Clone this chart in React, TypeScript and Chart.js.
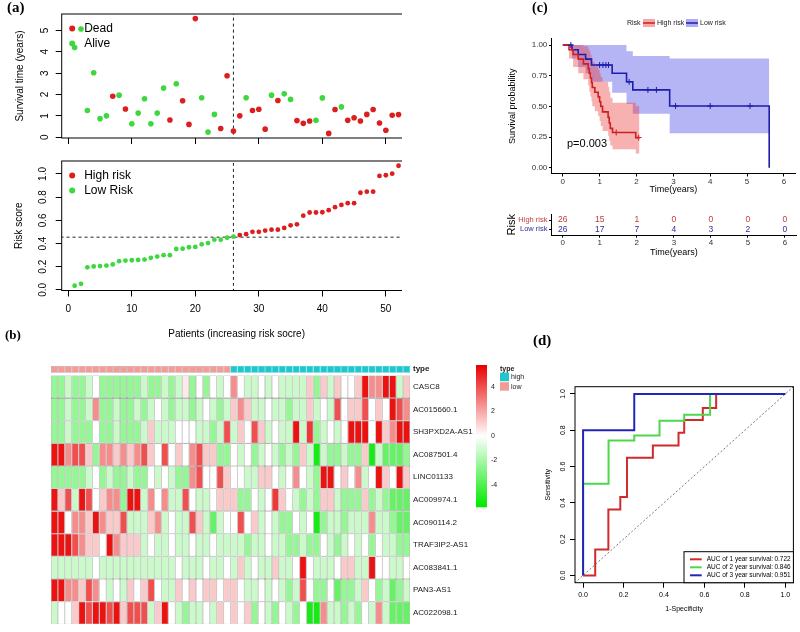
import React, { useEffect, useRef } from "react";
import { Chart, registerables } from "chart.js";
Chart.register(...registerables);

const FONT = "'Liberation Sans', Arial, Helvetica, sans-serif";
Chart.defaults.font.family = FONT;
Chart.defaults.color = "#000";

// ---------------- data: panel (a) ----------------
const patientIndex = [1,2,3,4,5,6,7,8,9,10,11,12,13,14,15,16,17,18,19,20,21,22,23,24,25,26,27,28,29,30,31,32,33,34,35,36,37,38,39,40,41,42,43,44,45,46,47,48,49,50,51,52];
const survivalYears = [4.2,5.06,1.25,3.02,0.87,1.0,1.92,1.97,1.32,0.63,1.13,1.8,0.63,1.13,2.3,0.81,2.5,1.71,0.6,5.55,1.85,0.24,1.07,0.41,2.88,0.29,1.0,1.85,1.25,1.31,0.38,1.97,1.72,2.03,1.77,0.78,0.65,0.76,0.79,1.84,0.18,1.3,1.42,0.79,0.91,0.76,1.07,1.3,0.67,0.33,1.03,1.06];
const deathStatus = [0,0,0,0,0,0,1,0,1,0,0,0,0,0,0,1,0,1,1,1,0,0,0,1,1,1,1,0,1,1,1,0,1,0,0,1,1,1,0,0,1,1,0,1,1,1,1,1,1,1,1,1];
const riskScores = [0.036,0.053,0.195,0.203,0.206,0.21,0.22,0.248,0.253,0.256,0.259,0.262,0.277,0.288,0.3,0.3,0.353,0.356,0.368,0.371,0.393,0.404,0.433,0.433,0.45,0.459,0.473,0.481,0.501,0.501,0.512,0.52,0.52,0.535,0.557,0.566,0.64,0.668,0.668,0.67,0.688,0.714,0.733,0.748,0.748,0.838,0.847,0.847,0.983,0.989,1.003,1.071];
const riskCutoff = 0.455;
const splitPatient = 26;
const survTicks = [0,1,2,3,4,5];
const riskTicks = [0,0.2,0.4,0.6,0.8,1.0];
const patientTicks = [0,10,20,30,40,50];

// ---------------- data: panel (b) heatmap ----------------
const geneNames = ["CASC8","AC015660.1","SH3PXD2A-AS1","AC087501.4","LINC01133","AC009974.1","AC090114.2","TRAF3IP2-AS1","AC083841.1","PAN3-AS1","AC022098.1"];
const exprCASC8 = [-2.4,-2.4,-1.2,-2.4,-2.4,-1.2,0,-2.4,-2.4,-2.4,-2.4,-2.4,-2.4,-1.2,-2.4,-2.4,-1.2,-2.4,-1.2,0.5,-2.4,0,-2.4,0,-1.2,0,2.6,0,-1.2,-1.2,0,-1.2,0,-1.2,-1.2,-1.2,-1.2,1.2,-2.4,1.2,-1.2,1.2,0,0,1.2,5.4,2.6,2.6,5.4,5.4,-1.2,1.2];
const exprAC015660 = [-2.4,-2.4,-1.2,-2.4,-2.4,-1.2,2.6,-2.4,-2.4,-1.2,-2.4,-2.4,-1.2,-2.4,-1.2,0,-1.2,-2.4,-1.2,-1.2,-2.4,-1.2,0,-1.2,-2.4,-1.2,1.2,2.6,1.2,-1.2,-1.2,0,-1.2,-1.2,-2.4,-1.2,-1.2,1.2,-1.2,0,-1.2,4,0,1.2,1.2,4,0,1.2,0,5.4,4,2.6];
const exprSH3PXD2A = [-2.4,-2.4,-1.2,-2.4,-2.4,-2.4,0,-2.4,-2.4,-1.2,-2.4,-2.4,-2.4,-1.2,1.2,-1.2,-1.2,-1.2,0,0,0,-1.2,-1.2,-2.4,-1.2,4,-1.2,1.2,0,4,1.2,-1.2,0,-1.2,-1.2,5.4,-1.2,4.5,-2.4,-1.2,0,-1.2,0,5.4,5.4,5.4,0,5.4,1.2,2.6,5.4,5.4];
const exprAC087501 = [5.4,5.4,2.6,4,4,1.2,-2.4,2.6,2.6,1.2,2.6,1.2,2.6,4,1.2,0,4,0,1.2,0,2.6,4,1.2,1.2,-2.4,-2.4,0,-1.2,0,-2.4,-1.2,0,-1.2,-2.4,-1.2,-2.4,1.2,-1.2,-5.3,-1.2,-2.4,-2.4,-1.2,-2.4,-2.4,1.2,-5.3,-1.2,-3.5,-3.5,-3.5,-2.4];
const exprLINC01133 = [-2.4,-2.4,-2.4,-2.4,-2.4,-1.2,0,-2.4,-1.2,-2.4,-2.4,-1.2,-2.4,-2.4,0,-1.2,0,-1.2,-2.4,-2.4,2.6,4,0,0,4,1.2,0,0,-1.2,-1.2,1.2,1.2,0,-1.2,0,2.6,0,-1.2,-2.4,5.4,5.4,0,1.2,0,2.6,-1.2,0,5.4,1.2,0,5.4,1.2];
const exprAC009974 = [5.4,1.2,4,-1.2,5.4,4,0,1.2,2.6,2.6,-2.4,5.4,5.4,-1.2,2.6,0,2.6,-1.2,-1.2,4,0,-1.2,-1.2,0,1.2,1.2,1.2,-2.4,-2.4,0,-1.2,0,4.5,1.2,0,-1.2,-2.4,-1.2,-2.4,1.2,1.2,-1.2,-2.4,-2.4,-2.4,1.2,-2.4,-1.2,-2.4,-3.5,-3.5,-3.5];
const exprAC090114 = [5.4,5.4,0,2.6,2.6,1.2,5.4,2.6,1.2,1.2,4,-1.2,-1.2,-1.2,1.2,2.6,-1.2,0,-1.2,-1.2,4,1.2,-1.2,-3.5,-1.2,0,0,4,0,1.2,-1.2,0,-1.2,-2.4,-2.4,0,-1.2,0,-5.3,-2.4,-1.2,-1.2,-2.4,-1.2,-1.2,-1.2,2.6,-1.2,-1.2,-2.4,-3.5,-3.5];
const exprTRAF3IP2 = [5.4,5.4,5.4,4,2.6,1.2,1.2,0,5.4,2.6,1.2,1.2,1.2,-1.2,0,-1.2,-1.2,0,-1.2,-1.2,0,-1.2,-1.2,0,-1.2,-1.2,-1.2,-1.2,-2.4,-1.2,-1.2,0,-1.2,-1.2,-2.4,-2.4,-1.2,-2.4,-2.4,0,-1.2,-2.4,-1.2,0,-1.2,0,-2.4,0,-1.2,-1.2,-2.4,-2.4];
const exprAC083841 = [-1.2,-1.2,-1.2,-1.2,-1.2,-1.2,0,-1.2,-1.2,-1.2,-1.2,-1.2,-1.2,-1.2,-1.2,-1.2,-1.2,-1.2,0,-1.2,-1.2,-1.2,0,-1.2,-1.2,0,-1.2,1.2,-1.2,0,-1.2,-1.2,1.2,-1.2,-1.2,0,5.4,0,-1.2,-1.2,-1.2,0,1.2,1.2,-1.2,-1.2,5.4,0,0,-1.2,-1.2,0];
const exprPAN3 = [5.4,5.4,2.6,2.6,1.2,4,2.6,0,-1.2,0,-1.2,1.2,0,1.2,4,0,-1.2,-1.2,1.2,0,1.2,0,1.2,1.2,0,1.2,1.2,0,-1.2,-1.2,0,-1.2,0,-1.2,-2.4,-1.2,4,0,-2.4,-2.4,0,-3.5,-2.4,-2.4,-1.2,1.2,0,-2.4,-1.2,-3.5,-2.4,-1.2];
const exprAC022098 = [-1.2,0,0,1.2,5.4,4,5.4,5.4,4,5.4,1.2,4,4,4,-1.2,1.2,5.4,0,-1.2,-2.4,-1.2,-1.2,0,-1.2,1.2,0,1.2,0,1.2,-2.4,0,-1.2,-2.4,0,-1.2,-2.4,0,-5.3,-5.3,2.6,-1.2,-1.2,-2.4,-1.2,-2.4,0,-1.2,2.6,-1.2,-3.5,-3.5,-3.5];
const exprRows = [exprCASC8, exprAC015660, exprSH3PXD2A, exprAC087501, exprLINC01133, exprAC009974, exprAC090114, exprTRAF3IP2, exprAC083841, exprPAN3, exprAC022098];
const colorBarTicks = [4, 2, 0, -2, -4];

// ---------------- data: panel (c) Kaplan-Meier ----------------
const highTimes = [0,0.17,0.28,0.42,0.56,0.69,0.72,0.75,0.78,0.8,0.87,0.96,1.0,1.03,1.08,1.23,1.26,1.29,1.35,1.98,2.08];
const highSurv = [1,0.962,0.923,0.885,0.846,0.808,0.769,0.731,0.692,0.654,0.615,0.577,0.538,0.5,0.455,0.41,0.364,0.32,0.287,0.245,0.245];
const highLower = [1,0.89,0.82,0.77,0.72,0.67,0.62,0.58,0.54,0.5,0.46,0.42,0.38,0.34,0.3,0.26,0.22,0.18,0.15,0.115,0.115];
const highUpper = [1,1,1,1,0.99,0.97,0.95,0.92,0.89,0.86,0.83,0.8,0.77,0.74,0.7,0.66,0.62,0.57,0.53,0.5,0.5];
const lowTimes = [0,0.25,0.42,0.62,0.78,1.34,1.73,1.9,2.9,5.6];
const lowSurv = [1,0.962,0.923,0.885,0.837,0.77,0.7,0.634,0.503,0];
const lowLower = [1,0.89,0.82,0.77,0.7,0.61,0.52,0.44,0.28,0.28];
const lowUpper = [1,1,1,1,1,1,0.95,0.91,0.89,0.89];
const highCensorTimes = [1.45,2.06];
const highCensorSurv = [0.287,0.245];
const lowCensorTimes = [0.22,1.0,1.09,1.17,1.24,1.8,2.31,2.54,3.06,4.0,5.08];
const lowCensorSurv = [1,0.837,0.837,0.837,0.837,0.7,0.634,0.634,0.503,0.503,0.503];
const pValueText = "p=0.003";
const tableTimes = [0,1,2,3,4,5,6];
const highAtRisk = [26,15,1,0,0,0,0];
const lowAtRisk = [26,17,7,4,3,2,0];
const kmYTicks = [0,0.25,0.5,0.75,1];

// ---------------- data: panel (d) ROC ----------------
const roc1Fpr = [0,0.06,0.06,0.125,0.125,0.184,0.184,0.217,0.217,0.345,0.345,0.472,0.472,0.5,0.5,0.592,0.592,0.658,0.658,1];
const roc1Tpr = [0,0,0.143,0.143,0.363,0.363,0.432,0.432,0.648,0.648,0.716,0.716,0.786,0.786,0.857,0.857,0.923,0.923,1,1];
const roc2Fpr = [0,0,0.126,0.126,0.253,0.253,0.378,0.378,0.5,0.5,0.628,0.628,1];
const roc2Tpr = [0,0.505,0.505,0.743,0.743,0.771,0.771,0.853,0.853,0.886,0.886,1,1];
const roc3Fpr = [0,0,0.253,0.253,1];
const roc3Tpr = [0,0.8,0.8,1,1];
const aucLabels = ["AUC of 1 year survival:", "AUC of 2 year survival:", "AUC of 3 year survival:"];
const aucValues = ["0.722", "0.846", "0.951"];
const rocTicks = [0,0.2,0.4,0.6,0.8,1.0];

// ---------------- colours ----------------
const RED_PT = "#DC1E1E";
const GREEN_PT = "#3ED83E";
const KM_RED = "#D01E1E";
const KM_BLUE = "#1E1EAA";
const TXT_RED = "#C43A3A";
const TXT_BLUE = "#2E2E9E";
const ROC_RED = "#CF2B2B";
const ROC_GREEN = "#4ED64E";
const ROC_BLUE = "#2424BA";
const TYPE_LOW = "#F29C97";
const TYPE_HIGH = "#1FC6CE";
const CELL_BORDER = "#8e8e8e";
const HEAT_MAX = 5.8;

function heatColor(v: number): string {
  const f = Math.min(1, Math.abs(v) / HEAT_MAX);
  const fade = Math.round(255 - 255 * f);
  const main = Math.round(255 - 22 * f);
  if (v >= 0) return "rgb(" + main + "," + fade + "," + fade + ")";
  return "rgb(" + fade + "," + main + "," + fade + ")";
}

function fixedTicks(vals: number[]) {
  return function (s: any) {
    s.ticks = vals.map(function (v) { return { value: v }; });
  };
}

const framePlugin = {
  id: "frame",
  afterDatasetsDraw(chart: any) {
    const ctx = chart.ctx;
    const a = chart.chartArea;
    ctx.save();
    ctx.strokeStyle = "#000";
    ctx.lineWidth = 1;
    ctx.strokeRect(a.left, a.top, a.right - a.left, a.bottom - a.top);
    ctx.restore();
  },
};

function dotLegend(labels: string[], colors: string[]) {
  return {
    id: "dotLegend",
    afterDraw(chart: any) {
      const ctx = chart.ctx;
      const a = chart.chartArea;
      ctx.save();
      for (let i = 0; i < labels.length; i++) {
        const cy = a.top + 14.5 + i * 15;
        const cx = a.left + 10.5;
        ctx.fillStyle = colors[i];
        ctx.beginPath();
        ctx.arc(cx, cy, 3, 0, Math.PI * 2);
        ctx.fill();
        ctx.fillStyle = "#000";
        ctx.font = "12px " + FONT;
        ctx.textBaseline = "middle";
        ctx.textAlign = "left";
        ctx.fillText(labels[i], cx + 12, cy + 0.5);
      }
      ctx.restore();
    },
  };
}

function rTickGrid(len: number) {
  return { display: true, drawOnChartArea: false, drawTicks: true, tickLength: len, color: "#000", lineWidth: 1 };
}

// ---------- (a) top ----------
function makeSurvival() {
  const dead: any[] = [];
  const alive: any[] = [];
  patientIndex.forEach(function (p, i) {
    const pt = { x: p, y: survivalYears[i] };
    if (deathStatus[i] === 1) dead.push(pt); else alive.push(pt);
  });
  return {
    type: "scatter",
    data: {
      datasets: [
        { label: "Dead", data: dead, backgroundColor: RED_PT, borderWidth: 0, pointRadius: 2.8 },
        { label: "Alive", data: alive, backgroundColor: GREEN_PT, borderWidth: 0, pointRadius: 2.8 },
        { type: "line", label: "split", data: [{ x: splitPatient, y: -1 }, { x: splitPatient, y: 10 }], borderColor: "#222", borderWidth: 1, borderDash: [3, 3], pointRadius: 0 },
      ],
    },
    options: {
      animation: false, responsive: false, events: [],
      layout: { padding: { left: 0, top: 13.3, right: 8.5, bottom: 0 } },
      plugins: { legend: { display: false }, tooltip: { enabled: false } },
      scales: {
        x: { type: "linear", min: -1.04, max: 54.04, afterBuildTicks: fixedTicks(patientTicks), afterFit: function (s: any) { s.height = 7.2; }, ticks: { display: false }, grid: rTickGrid(6), border: { display: false } },
        y: {
          type: "linear", min: -0.035, max: 5.765, afterBuildTicks: fixedTicks(survTicks), afterFit: function (s: any) { s.width = 61.7; },
          ticks: { minRotation: 90, maxRotation: 90, crossAlign: "center", padding: 8, autoSkip: false, font: { size: 10 }, color: "#000" },
          grid: rTickGrid(6), border: { display: false },
          title: { display: true, text: "Survival time (years)", font: { size: 10 }, color: "#000", padding: { top: 14, bottom: 0 } },
        },
      },
    },
    plugins: [framePlugin, dotLegend(["Dead", "Alive"], [RED_PT, GREEN_PT])],
  };
}

// ---------- (a) bottom ----------
function makeRisk() {
  const high: any[] = [];
  const low: any[] = [];
  patientIndex.forEach(function (p, i) {
    const pt = { x: p, y: riskScores[i] };
    if (p > splitPatient) high.push(pt); else low.push(pt);
  });
  return {
    type: "scatter",
    data: {
      datasets: [
        { label: "High risk", data: high, backgroundColor: RED_PT, borderWidth: 0, pointRadius: 2.4 },
        { label: "Low Risk", data: low, backgroundColor: GREEN_PT, borderWidth: 0, pointRadius: 2.4 },
        { type: "line", label: "split", data: [{ x: splitPatient, y: -1 }, { x: splitPatient, y: 2 }], borderColor: "#222", borderWidth: 1, borderDash: [3, 3], pointRadius: 0 },
        { type: "line", label: "cut", data: [{ x: -5, y: riskCutoff }, { x: 60, y: riskCutoff }], borderColor: "#222", borderWidth: 1, borderDash: [3, 3], pointRadius: 0 },
      ],
    },
    options: {
      animation: false, responsive: false, events: [],
      layout: { padding: { left: 0, top: 9.3, right: 8.5, bottom: 0 } },
      plugins: { legend: { display: false }, tooltip: { enabled: false } },
      scales: {
        x: {
          type: "linear", min: -1.04, max: 54.04, afterBuildTicks: fixedTicks(patientTicks), afterFit: function (s: any) { s.height = 54.5; },
          ticks: { font: { size: 10 }, color: "#000", padding: 7, autoSkip: false, maxRotation: 0 },
          grid: rTickGrid(6), border: { display: false },
          title: { display: true, text: "Patients (increasing risk socre)", font: { size: 10 }, color: "#000", padding: { top: 0, bottom: 5 } },
        },
        y: {
          type: "linear", min: -0.005, max: 1.112, afterBuildTicks: fixedTicks(riskTicks), afterFit: function (s: any) { s.width = 61.7; },
          ticks: { minRotation: 90, maxRotation: 90, crossAlign: "center", padding: 5, autoSkip: false, font: { size: 10 }, color: "#000", callback: function (v: any) { return Number(v).toFixed(1); } },
          grid: rTickGrid(6), border: { display: false },
          title: { display: true, text: "Risk score", font: { size: 10 }, color: "#000", padding: { top: 13, bottom: 0 } },
        },
      },
    },
    plugins: [framePlugin, dotLegend(["High risk", "Low Risk"], [RED_PT, GREEN_PT])],
  };
}

// ---------- (b) heatmap ----------
function makeHeatmap() {
  const GAP = 0.117;
  const TYPE_H = 0.317;
  const namesBottomUp = geneNames.slice().reverse();
  const rowsBottomUp = exprRows.slice().reverse();
  const datasets: any[] = [];
  for (let r = 0; r < rowsBottomUp.length; r++) {
    const row = rowsBottomUp[r];
    datasets.push({
      label: namesBottomUp[r],
      data: row.map(function () { return 1; }),
      backgroundColor: row.map(heatColor),
      borderColor: CELL_BORDER, borderWidth: 0.55, borderSkipped: false, inflateAmount: 0, barPercentage: 1, categoryPercentage: 1,
    });
  }
  datasets.push({ label: "gap", data: patientIndex.map(function () { return GAP; }), backgroundColor: "rgba(0,0,0,0)", borderWidth: 0, barPercentage: 1, categoryPercentage: 1, inflateAmount: 0 });
  datasets.push({
    label: "type",
    data: patientIndex.map(function () { return TYPE_H; }),
    backgroundColor: patientIndex.map(function (p) { return p <= splitPatient ? TYPE_LOW : TYPE_HIGH; }),
    borderColor: patientIndex.map(function (p) { return p <= splitPatient ? CELL_BORDER : TYPE_HIGH; }),
    borderWidth: 0.55, borderSkipped: false, inflateAmount: 0, barPercentage: 1, categoryPercentage: 1,
  });
  const tickVals: number[] = namesBottomUp.map(function (_n, i) { return i + 0.5; });
  tickVals.push(namesBottomUp.length + GAP + TYPE_H / 2);
  const tickLabels: string[] = namesBottomUp.concat(["type"]);
  const legendPlugin = {
    id: "heatLegend",
    afterDraw(chart: any) {
      const ctx = chart.ctx;
      const a = chart.chartArea;
      ctx.save();
      const x0 = a.right + 66, w = 11, y0 = a.top - 0.7, h = 142;
      for (let k = 0; k < h; k++) {
        const v = HEAT_MAX * (1 - (2 * (k + 0.5)) / h);
        ctx.fillStyle = heatColor(v);
        ctx.fillRect(x0, y0 + k, w, 1.3);
      }
      ctx.fillStyle = "#222";
      ctx.font = "7px " + FONT;
      ctx.textAlign = "left";
      ctx.textBaseline = "middle";
      colorBarTicks.forEach(function (v) {
        ctx.fillText(String(v), x0 + w + 4, y0 + h / 2 - v * (h / 2) / HEAT_MAX);
      });
      const lx = x0 + 24;
      ctx.font = "bold 7px " + FONT;
      ctx.fillText("type", lx, a.top + 3);
      ctx.fillStyle = TYPE_HIGH;
      ctx.fillRect(lx, a.top + 7, 9, 8.5);
      ctx.fillStyle = TYPE_LOW;
      ctx.fillRect(lx, a.top + 16.5, 9, 8.5);
      ctx.fillStyle = "#222";
      ctx.font = "7px " + FONT;
      ctx.fillText("high", lx + 11, a.top + 11.5);
      ctx.fillText("low", lx + 11, a.top + 21);
      ctx.restore();
    },
  };
  return {
    type: "bar",
    data: { labels: patientIndex.map(String), datasets: datasets },
    options: {
      animation: false, responsive: false, events: [],
      layout: { padding: { left: 11, top: 10.7, right: 0, bottom: 3 } },
      plugins: { legend: { display: false }, tooltip: { enabled: false } },
      scales: {
        x: { type: "category", stacked: true, display: false },
        y: {
          type: "linear", stacked: true, position: "right", min: 0, max: namesBottomUp.length + GAP + TYPE_H,
          afterBuildTicks: fixedTicks(tickVals), afterFit: function (s: any) { s.width = 130; },
          ticks: {
            autoSkip: false, padding: 3, color: "#1a1a1a",
            font: function (c: any) { return { size: 8, weight: c.index === tickLabels.length - 1 ? "bold" : "normal" }; },
            callback: function (_v: any, i: number) { return tickLabels[i]; },
          },
          grid: { display: false, drawTicks: false }, border: { display: false },
        },
      },
    },
    plugins: [legendPlugin],
  };
}

// ---------- (c) KM ----------
function pairs(xs: number[], ys: number[]) {
  return xs.map(function (x, i) { return { x: x, y: ys[i] }; });
}

function makeKM() {
  const kmLegend = {
    id: "kmLegend",
    afterDraw(chart: any) {
      const ctx = chart.ctx;
      ctx.save();
      ctx.font = "7px " + FONT;
      ctx.textBaseline = "middle";
      ctx.textAlign = "left";
      ctx.fillStyle = "#222";
      ctx.fillText("Risk", 147, 23);
      const key = function (x: number, fill: string, line: string, label: string) {
        ctx.fillStyle = fill;
        ctx.fillRect(x, 19, 12, 8);
        ctx.strokeStyle = line;
        ctx.lineWidth = 1.5;
        ctx.beginPath();
        ctx.moveTo(x, 23);
        ctx.lineTo(x + 12, 23);
        ctx.stroke();
        ctx.fillStyle = "#222";
        ctx.fillText(label, x + 14, 23);
      };
      key(163, "rgba(235,60,60,0.45)", KM_RED, "High risk");
      key(206, "rgba(70,70,230,0.45)", KM_BLUE, "Low risk");
      ctx.font = "11px " + FONT;
      ctx.fillStyle = "#000";
      ctx.fillText(pValueText, 87, 144);
      ctx.restore();
    },
  };
  return {
    type: "line",
    data: {
      datasets: [
        { label: "High censor", data: pairs(highCensorTimes, highCensorSurv), showLine: false, pointStyle: "cross", pointRadius: 3, borderColor: KM_RED, borderWidth: 1 },
        { label: "Low censor", data: pairs(lowCensorTimes, lowCensorSurv), showLine: false, pointStyle: "cross", pointRadius: 3, borderColor: KM_BLUE, borderWidth: 1 },
        { label: "High risk", data: pairs(highTimes, highSurv), stepped: true, borderColor: KM_RED, borderWidth: 1.6, pointRadius: 0 },
        { label: "Low risk", data: pairs(lowTimes, lowSurv), stepped: true, borderColor: KM_BLUE, borderWidth: 1.6, pointRadius: 0 },
        { label: "high upper", data: pairs(highTimes, highUpper), stepped: true, borderWidth: 0, pointRadius: 0, fill: 5, backgroundColor: "rgba(235,50,50,0.38)" },
        { label: "high lower", data: pairs(highTimes, highLower), stepped: true, borderWidth: 0, pointRadius: 0, fill: false },
        { label: "low upper", data: pairs(lowTimes, lowUpper), stepped: true, borderWidth: 0, pointRadius: 0, fill: 7, backgroundColor: "rgba(60,60,230,0.38)" },
        { label: "low lower", data: pairs(lowTimes, lowLower), stepped: true, borderWidth: 0, pointRadius: 0, fill: false },
      ],
    },
    options: {
      animation: false, responsive: false, events: [],
      layout: { padding: { left: 20, top: 38.9, right: 4, bottom: 0 } },
      plugins: { legend: { display: false }, tooltip: { enabled: false } },
      scales: {
        x: {
          type: "linear", min: -0.3, max: 6.3, afterBuildTicks: fixedTicks(tableTimes), afterFit: function (s: any) { s.height = 26.2; },
          ticks: { font: { size: 8 }, color: "#333", padding: 0.5, maxRotation: 0 },
          grid: rTickGrid(2.7), border: { display: true, color: "#000", width: 1 },
          title: { display: true, text: "Time(years)", font: { size: 9 }, color: "#000", padding: { top: 0, bottom: 4.6 } },
        },
        y: {
          type: "linear", min: -0.05, max: 1.05, afterBuildTicks: fixedTicks(kmYTicks), afterFit: function (s: any) { s.width = 51.7; },
          ticks: { font: { size: 8 }, color: "#333", padding: 1.7, callback: function (v: any) { return Number(v).toFixed(2); } },
          grid: rTickGrid(2.7), border: { display: true, color: "#000", width: 1 },
          title: { display: true, text: "Survival probability", font: { size: 9 }, color: "#000", padding: { top: 7.6, bottom: 0 } },
        },
      },
    },
    plugins: [kmLegend],
  };
}

// ---------- (c) risk table ----------
function makeTable() {
  const numbers = {
    id: "atRisk",
    afterDatasetsDraw(chart: any) {
      const ctx = chart.ctx;
      ctx.save();
      ctx.font = "8.5px " + FONT;
      ctx.textAlign = "center";
      ctx.textBaseline = "middle";
      chart.data.datasets.forEach(function (ds: any, di: number) {
        const meta = chart.getDatasetMeta(di);
        ctx.fillStyle = ds.textColor;
        meta.data.forEach(function (el: any, i: number) { ctx.fillText(String(ds.counts[i]), el.x, el.y); });
      });
      ctx.restore();
    },
  };
  return {
    type: "scatter",
    data: {
      datasets: [
        { label: "High risk", data: tableTimes.map(function (t) { return { x: t, y: 2 }; }), counts: highAtRisk, textColor: TXT_RED, pointRadius: 0 },
        { label: "Low risk", data: tableTimes.map(function (t) { return { x: t, y: 1 }; }), counts: lowAtRisk, textColor: TXT_BLUE, pointRadius: 0 },
      ],
    },
    options: {
      animation: false, responsive: false, events: [],
      layout: { padding: { left: 20, top: 9.5, right: 4, bottom: 0 } },
      plugins: { legend: { display: false }, tooltip: { enabled: false } },
      scales: {
        x: {
          type: "linear", min: -0.3, max: 6.3, afterBuildTicks: fixedTicks(tableTimes), afterFit: function (s: any) { s.height = 30; },
          ticks: { font: { size: 8 }, color: "#333", padding: 0, maxRotation: 0 },
          grid: rTickGrid(2.7), border: { display: true, color: "#000", width: 1 },
          title: { display: true, text: "Time(years)", font: { size: 9 }, color: "#000", padding: { top: 0, bottom: 7.3 } },
        },
        y: {
          type: "linear", min: 0.4, max: 2.6, afterBuildTicks: fixedTicks([1, 2]), afterFit: function (s: any) { s.width = 51.7; },
          ticks: {
            font: { size: 7.5 }, padding: 1.5,
            color: function (c: any) { return c.tick && c.tick.value === 2 ? TXT_RED : TXT_BLUE; },
            callback: function (v: any) { return Number(v) === 2 ? "High risk" : "Low risk"; },
          },
          grid: rTickGrid(2.7), border: { display: true, color: "#000", width: 1 },
          title: { display: true, text: "Risk", font: { size: 11 }, color: "#000", padding: { top: 5, bottom: 0 } },
        },
      },
    },
    plugins: [numbers],
  };
}

// ---------- (d) ROC ----------
function makeROC() {
  const rocLegend = {
    id: "rocLegend",
    afterDraw(chart: any) {
      const ctx = chart.ctx;
      const a = chart.chartArea;
      ctx.save();
      const bx = a.right - 109.4, by = a.bottom - 31;
      ctx.fillStyle = "#fff";
      ctx.fillRect(bx, by, a.right - bx, a.bottom - by);
      ctx.strokeStyle = "#000";
      ctx.lineWidth = 1;
      ctx.strokeRect(bx, by, a.right - bx, a.bottom - by);
      const cols = [ROC_RED, ROC_GREEN, ROC_BLUE];
      ctx.font = "6.5px " + FONT;
      ctx.textBaseline = "middle";
      for (let i = 0; i < aucLabels.length; i++) {
        const y = a.bottom - 23.4 + i * 8;
        ctx.strokeStyle = cols[i];
        ctx.lineWidth = 2;
        ctx.beginPath();
        ctx.moveTo(a.right - 103.4, y);
        ctx.lineTo(a.right - 91.7, y);
        ctx.stroke();
        ctx.fillStyle = "#000";
        ctx.textAlign = "left";
        ctx.fillText(aucLabels[i], a.right - 86.7, y);
        ctx.textAlign = "right";
        ctx.fillText(aucValues[i], a.right - 2.7, y);
      }
      ctx.restore();
    },
  };
  return {
    type: "line",
    data: {
      datasets: [
        { label: "3 year", data: pairs(roc3Fpr, roc3Tpr), borderColor: ROC_BLUE, pointRadius: 0, borderWidth: 2, fill: false, tension: 0 },
        { label: "2 year", data: pairs(roc2Fpr, roc2Tpr), borderColor: ROC_GREEN, pointRadius: 0, borderWidth: 2, fill: false, tension: 0 },
        { label: "1 year", data: pairs(roc1Fpr, roc1Tpr), borderColor: ROC_RED, pointRadius: 0, borderWidth: 2, fill: false, tension: 0 },
        { label: "ref", data: [{ x: -0.1, y: -0.1 }, { x: 1.1, y: 1.1 }], borderColor: "#777", borderWidth: 1, borderDash: [2, 2], pointRadius: 0, fill: false },
      ],
    },
    options: {
      animation: false, responsive: false, events: [],
      layout: { padding: { left: 0, top: 56.7, right: 6.6, bottom: 0 } },
      plugins: { legend: { display: false }, tooltip: { enabled: false } },
      scales: {
        x: {
          type: "linear", min: -0.04, max: 1.04, afterBuildTicks: fixedTicks(rocTicks), afterFit: function (s: any) { s.height = 49.3; },
          ticks: { font: { size: 7 }, color: "#000", padding: 3, maxRotation: 0, callback: function (v: any) { return Number(v).toFixed(1); } },
          grid: rTickGrid(5), border: { display: false },
          title: { display: true, text: "1-Specificity", font: { size: 7 }, color: "#000", padding: { top: 0, bottom: 18.5 } },
        },
        y: {
          type: "linear", min: -0.04, max: 1.04, afterBuildTicks: fixedTicks(rocTicks), afterFit: function (s: any) { s.width = 35; },
          ticks: { minRotation: 90, maxRotation: 90, crossAlign: "center", autoSkip: false, font: { size: 7 }, color: "#000", padding: 2, callback: function (v: any) { return Number(v).toFixed(1); } },
          grid: rTickGrid(5), border: { display: false },
          title: { display: true, text: "Sensitivity", font: { size: 7 }, color: "#000", padding: { top: 3.8, bottom: 0 } },
        },
      },
    },
    plugins: [framePlugin, rocLegend],
  };
}

type CanvasProps = { x: number; y: number; w: number; h: number; clipW?: number; make: () => any };

function ChartCanvas(props: CanvasProps) {
  const ref = useRef<HTMLCanvasElement>(null);
  useEffect(function () {
    const chart = new Chart(ref.current as HTMLCanvasElement, props.make());
    return function () { chart.destroy(); };
  }, []);
  const cw = props.clipW === undefined ? props.w : props.clipW;
  return (
    <div style={{ position: "absolute", left: props.x, top: props.y, width: cw, height: props.h, overflow: "hidden" }}>
      <canvas ref={ref} width={props.w} height={props.h} style={{ display: "block", width: props.w, height: props.h }} />
    </div>
  );
}

function letterStyle(left: number, top: number, size: number): React.CSSProperties {
  return {
    position: "absolute", left: left, top: top, fontFamily: "'Liberation Serif', 'Times New Roman', serif",
    fontWeight: "bold", fontSize: size, lineHeight: size + "px", color: "#000",
  };
}

export default function App() {
  return (
    <div style={{ position: "absolute", left: 0, top: 0, width: 800, height: 632, background: "#fff", overflow: "hidden" }}>
      <ChartCanvas x={0} y={0} w={420} h={152} clipW={402} make={makeSurvival} />
      <ChartCanvas x={0} y={150} w={420} h={195} clipW={402} make={makeRisk} />
      <ChartCanvas x={40} y={355} w={500} h={277} make={makeHeatmap} />
      <ChartCanvas x={480} y={0} w={320} h={200} make={makeKM} />
      <ChartCanvas x={480} y={205} w={320} h={60} make={makeTable} />
      <ChartCanvas x={540} y={330} w={260} h={302} make={makeROC} />
      <div style={letterStyle(7, 0, 15)}>(a)</div>
      <div style={letterStyle(5, 327.5, 13)}>(b)</div>
      <div style={letterStyle(532, 1, 14)}>(c)</div>
      <div style={letterStyle(533, 332.5, 15)}>(d)</div>
    </div>
  );
}
